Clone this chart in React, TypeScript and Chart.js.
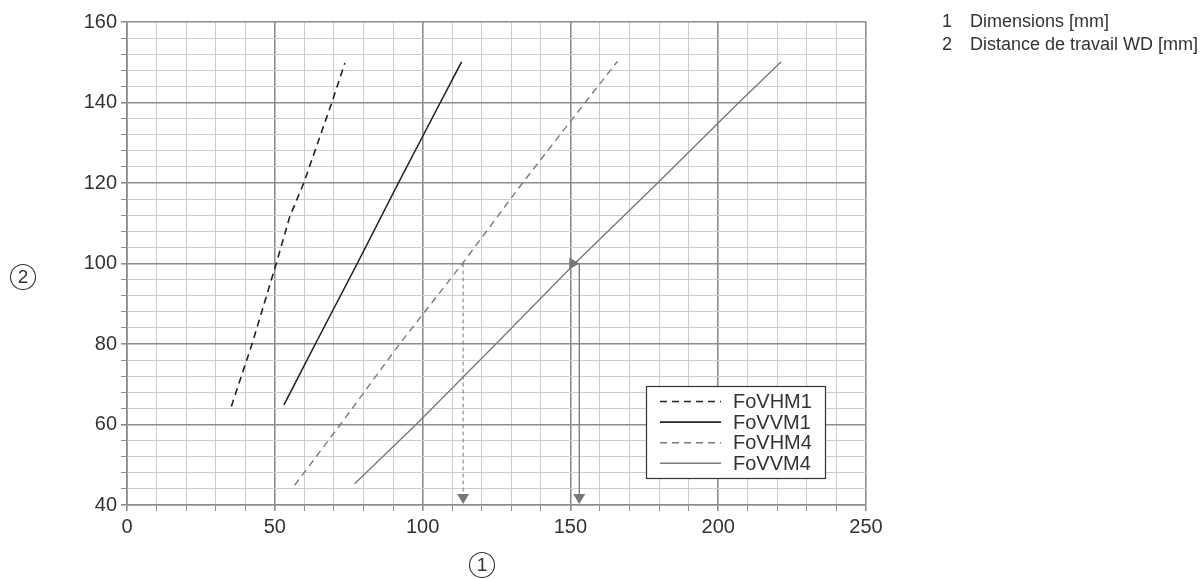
import React, { useEffect, useRef } from "react";
import { Chart, registerables } from "chart.js";

Chart.register(...registerables);

// ---- data ----
const FoVHM1_X = [35.3, 42.3, 50.5, 55.0, 59.8, 69.3, 73.7];
const FoVHM1_Y = [64.5, 80, 100, 111.5, 120, 140, 149.8];
const FoVVM1_X = [53.1, 63.7, 77.9, 91.8, 106.0, 113.2];
const FoVVM1_Y = [64.9, 80, 100, 120, 140, 150.1];
const FoVHM4_X = [56.7, 72.2, 92.2, 113.5, 133.8, 155.0, 165.9];
const FoVHM4_Y = [44.9, 60, 80, 100, 120, 140, 150.2];
const FoVVM4_X = [77.0, 97.8, 124.8, 151.5, 179.5, 207.0, 221.3];
const FoVVM4_Y = [45.3, 60, 80, 100, 120, 140, 150.1];

const SERIES_LABELS = ["FoVHM1", "FoVVM1", "FoVHM4", "FoVVM4"];

// reading arrows
const ARROW_DASHED_X = 113.7;
const ARROW_SOLID_X = 153;
const ARROW_Y_FROM = 100;
const ARROW_Y_TO = 40;

const X_MIN = 0, X_MAX = 250, X_STEP = 10, X_LABEL_EVERY = 50;
const Y_MIN = 40, Y_MAX = 160, Y_STEP = 4, Y_LABEL_EVERY = 20;

const NOTES = [
  ["1", "Dimensions [mm]"],
  ["2", "Distance de travail WD [mm]"],
];

const FONT = "'Liberation Sans', Arial, sans-serif";

const toPts = (xs: number[], ys: number[]) => xs.map((x, i) => ({ x, y: ys[i] }));

const STYLES = [
  { color: "#222222", dash: [7, 5], width: 1.6 },
  { color: "#222222", dash: [], width: 1.6 },
  { color: "#7a7a7a", dash: [7, 5], width: 1.4 },
  { color: "#7a7a7a", dash: [], width: 1.4 },
];

const MAJOR = "#8c8c8c";
const MINOR = "#cdcdcd";

function drawHead(ctx: CanvasRenderingContext2D, x: number, y: number, dir: "down" | "right") {
  ctx.beginPath();
  if (dir === "down") {
    ctx.moveTo(x, y);
    ctx.lineTo(x - 6, y - 10);
    ctx.lineTo(x + 6, y - 10);
  } else {
    ctx.moveTo(x, y);
    ctx.lineTo(x - 10, y - 6);
    ctx.lineTo(x - 10, y + 6);
  }
  ctx.closePath();
  ctx.fill();
}

const overlayPlugin = {
  id: "overlay",
  afterDatasetsDraw(chart: any) {
    const ctx: CanvasRenderingContext2D = chart.ctx;
    const xs = chart.scales.x;
    const ys = chart.scales.y;
    ctx.save();
    const yA = ys.getPixelForValue(ARROW_Y_FROM);
    const yB = ys.getPixelForValue(ARROW_Y_TO);
    const xSolid = xs.getPixelForValue(ARROW_SOLID_X);
    const xDash = xs.getPixelForValue(ARROW_DASHED_X);
    ctx.fillStyle = "#777777";
    ctx.strokeStyle = "#777777";
    // dashed vertical
    ctx.lineWidth = 1;
    ctx.setLineDash([4, 3]);
    ctx.beginPath();
    ctx.moveTo(xDash, yA);
    ctx.lineTo(xDash, yB - 8);
    ctx.stroke();
    ctx.setLineDash([]);
    drawHead(ctx, xDash, yB - 1, "down");
    // solid vertical
    ctx.lineWidth = 1.3;
    ctx.beginPath();
    ctx.moveTo(xSolid, yA);
    ctx.lineTo(xSolid, yB - 8);
    ctx.stroke();
    drawHead(ctx, xSolid, yB - 1, "down");
    drawHead(ctx, xSolid, yA, "right");

    // legend box
    const lx = 646, ly = 386, lw = 179, lh = 92;
    ctx.fillStyle = "#ffffff";
    ctx.fillRect(lx, ly, lw, lh);
    ctx.strokeStyle = "#333333";
    ctx.lineWidth = 1.2;
    ctx.strokeRect(lx + 0.5, ly + 0.5, lw, lh);
    ctx.font = `20px ${FONT}`;
    ctx.textBaseline = "middle";
    ctx.textAlign = "left";
    SERIES_LABELS.forEach((lab, i) => {
      const cy = 401.5 + i * 20.6;
      const st = STYLES[i];
      ctx.strokeStyle = st.color;
      ctx.lineWidth = st.width;
      ctx.setLineDash(st.dash);
      ctx.beginPath();
      ctx.moveTo(660, cy);
      ctx.lineTo(721, cy);
      ctx.stroke();
      ctx.setLineDash([]);
      ctx.fillStyle = "#333333";
      ctx.fillText(lab, 733, cy + 1);
    });

    // notes (right aligned to the page edge)
    ctx.font = `18px ${FONT}`;
    ctx.fillStyle = "#333333";
    const textX = 1198 - ctx.measureText(NOTES[1][1]).width;
    NOTES.forEach((n, i) => {
      const cy = 22 + i * 23;
      ctx.fillText(n[0], textX - 28, cy);
      ctx.fillText(n[1], textX, cy);
    });

    // circled numbers
    const circ = (cx: number, cy: number, t: string) => {
      ctx.strokeStyle = "#333333";
      ctx.lineWidth = 1.1;
      ctx.beginPath();
      ctx.arc(cx, cy, 12.5, 0, Math.PI * 2);
      ctx.stroke();
      ctx.fillStyle = "#333333";
      ctx.font = `19px ${FONT}`;
      ctx.textAlign = "center";
      ctx.textBaseline = "middle";
      ctx.fillText(t, cx, cy + 1);
    };
    circ(23, 277, "2");
    circ(482, 565, "1");
    ctx.restore();
  },
};

export default function App() {
  const ref = useRef<HTMLCanvasElement | null>(null);
  useEffect(() => {
    if (!ref.current) return;
    const seriesX = [FoVHM1_X, FoVVM1_X, FoVHM4_X, FoVVM4_X];
    const seriesY = [FoVHM1_Y, FoVVM1_Y, FoVHM4_Y, FoVVM4_Y];
    const isMajor = (c: any) => c.tick && Math.round(c.tick.value) % (c.scale.axis === "x" ? X_LABEL_EVERY : Y_LABEL_EVERY) === 0;
    const gridColor = (c: any) => (isMajor(c) ? MAJOR : MINOR);
    const gridWidth = (c: any) => (isMajor(c) ? 1.6 : 1);
    const chart = new Chart(ref.current, {
      type: "scatter",
      data: {
        datasets: SERIES_LABELS.map((label, i) => ({
          label,
          data: toPts(seriesX[i], seriesY[i]),
          showLine: true,
          borderColor: STYLES[i].color,
          borderWidth: STYLES[i].width,
          borderDash: STYLES[i].dash,
          pointRadius: 0,
          tension: 0,
          fill: false,
        })),
      },
      options: {
        animation: false,
        responsive: false,
        devicePixelRatio: 1,
        layout: { padding: { top: 22, right: 337, left: 0, bottom: 0 } },
        plugins: { legend: { display: false }, tooltip: { enabled: false } },
        scales: {
          x: {
            type: "linear",
            min: X_MIN,
            max: X_MAX,
            afterFit: (s: any) => { s.height = 74; },
            ticks: {
              stepSize: X_STEP,
              autoSkip: false,
              maxRotation: 0,
              padding: 4,
              color: "#333333",
              font: { family: FONT, size: 20 },
              callback: (v: any) => (Math.round(v) % X_LABEL_EVERY === 0 ? String(v) : ""),
            },
            grid: { color: gridColor, lineWidth: gridWidth, tickLength: 6, tickColor: MAJOR },
            border: { color: MAJOR, width: 1.6 },
          },
          y: {
            type: "linear",
            min: Y_MIN,
            max: Y_MAX,
            afterFit: (s: any) => { s.width = 127; },
            ticks: {
              stepSize: Y_STEP,
              autoSkip: false,
              padding: 4,
              color: "#333333",
              font: { family: FONT, size: 20 },
              callback: (v: any) => (Math.round(v) % Y_LABEL_EVERY === 0 ? String(v) : ""),
            },
            grid: { color: gridColor, lineWidth: gridWidth, tickLength: 6, tickColor: MAJOR },
            border: { color: MAJOR, width: 1.6 },
          },
        },
      },
      plugins: [overlayPlugin],
    } as any);
    return () => chart.destroy();
  }, []);
  return (
    <div style={{ position: "absolute", left: 0, top: 0, width: 1203, height: 579, background: "#fff" }}>
      <canvas ref={ref} width={1203} height={579} style={{ width: 1203, height: 579, display: "block" }} />
    </div>
  );
}
